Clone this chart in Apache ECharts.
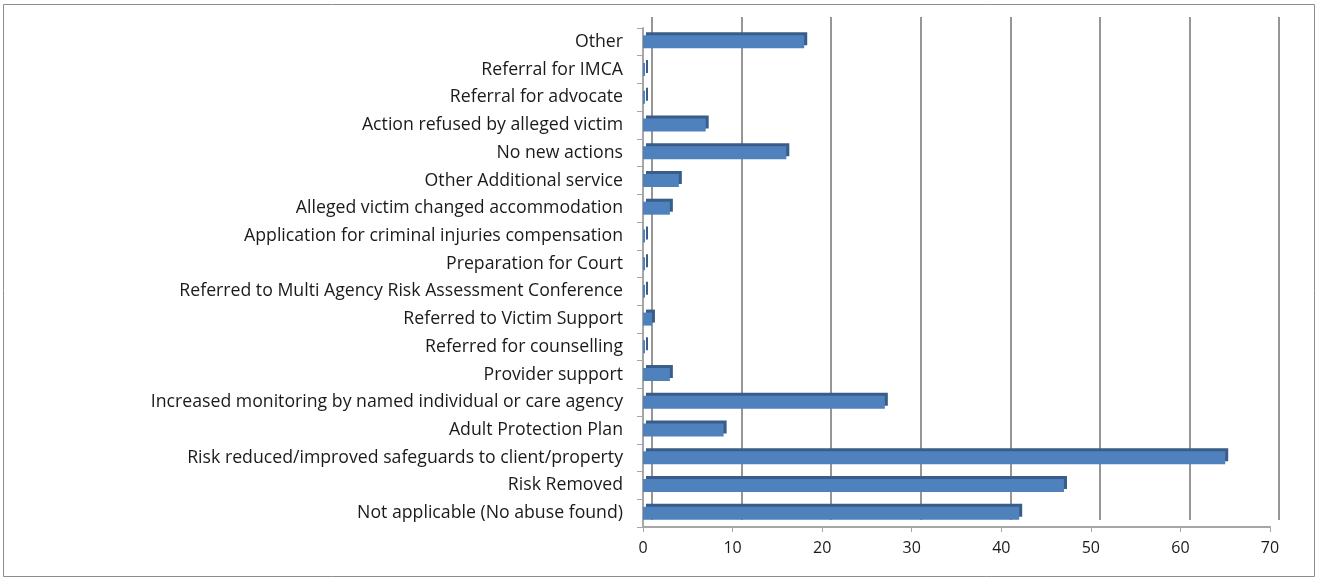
<!DOCTYPE html>
<html>
<head>
<meta charset="utf-8">
<script src="https://cdn.jsdelivr.net/npm/echarts@6/dist/echarts.min.js"></script>
<style>
html,body{margin:0;padding:0;background:#fff;}
#chart{width:1318px;height:580px;}
</style>
</head>
<body>
<div id="chart"></div>
<script>
// Categories top to bottom
const categories = [
  "Other",
  "Referral for IMCA",
  "Referral for advocate",
  "Action refused by alleged victim",
  "No new actions",
  "Other Additional service",
  "Alleged victim changed accommodation",
  "Application for criminal injuries compensation",
  "Preparation for Court",
  "Referred to Multi Agency Risk Assessment Conference",
  "Referred to Victim Support",
  "Referred for counselling",
  "Provider support",
  "Increased monitoring by named individual or care agency",
  "Adult Protection Plan",
  "Risk reduced/improved safeguards to client/property",
  "Risk Removed",
  "Not applicable (No abuse found)"
];
const values = [18, 0, 0, 7, 16, 4, 3, 0, 0, 0, 1, 0, 3, 27, 9, 65, 47, 42];
const xTicks = [0, 10, 20, 30, 40, 50, 60, 70];

const chart = echarts.init(document.getElementById('chart'), null, {renderer: 'canvas'});
const FONT = 'Open Sans';
chart.setOption({
  animation: false,
  backgroundColor: '#fff',
  graphic: [{
    type: 'rect',
    shape: {x: 3.5, y: 4.5, width: 1311, height: 572},
    style: {fill: 'none', stroke: '#8c8c8c', lineWidth: 1},
    silent: true
  }],
  grid: [
    {left: 643, right: 48, top: 28, bottom: 53},
    {left: 652, right: 39, top: 17, bottom: 60}
  ],
  xAxis: [
    {
      gridIndex: 0, type: 'value', min: xTicks[0], max: xTicks[xTicks.length - 1], interval: 10,
      axisLine: {show: true, lineStyle: {color: '#a6a6a6', width: 2}},
      axisTick: {show: true, length: 5, lineStyle: {color: '#a6a6a6'}},
      splitLine: {show: false},
      axisLabel: {color: '#1a1a1a', fontFamily: FONT, fontSize: 16, margin: 13}
    },
    {
      gridIndex: 1, type: 'value', min: 0, max: 70, interval: 10,
      axisLine: {show: false}, axisTick: {show: false}, axisLabel: {show: false},
      splitLine: {show: true, lineStyle: {color: '#969696', width: 2}}
    }
  ],
  yAxis: [
    {
      gridIndex: 0, type: 'category', data: categories, inverse: true,
      axisLine: {show: true, lineStyle: {color: '#a6a6a6', width: 2}},
      axisTick: {show: true, length: 6, lineStyle: {color: '#a6a6a6'}},
      axisLabel: {color: '#1a1a1a', fontFamily: FONT, fontSize: 17.7, margin: 20}
    },
    {
      gridIndex: 1, type: 'category', data: categories, inverse: true, show: false
    }
  ],
  series: [{
    type: 'bar',
    xAxisIndex: 0, yAxisIndex: 0,
    data: values,
    barWidth: 13,
    barMinHeight: 2,
    itemStyle: {
      color: '#4f81bd',
      shadowColor: '#385d8a',
      shadowBlur: 0,
      shadowOffsetX: 3,
      shadowOffsetY: -3
    }
  }]
});
</script>
</body>
</html>
